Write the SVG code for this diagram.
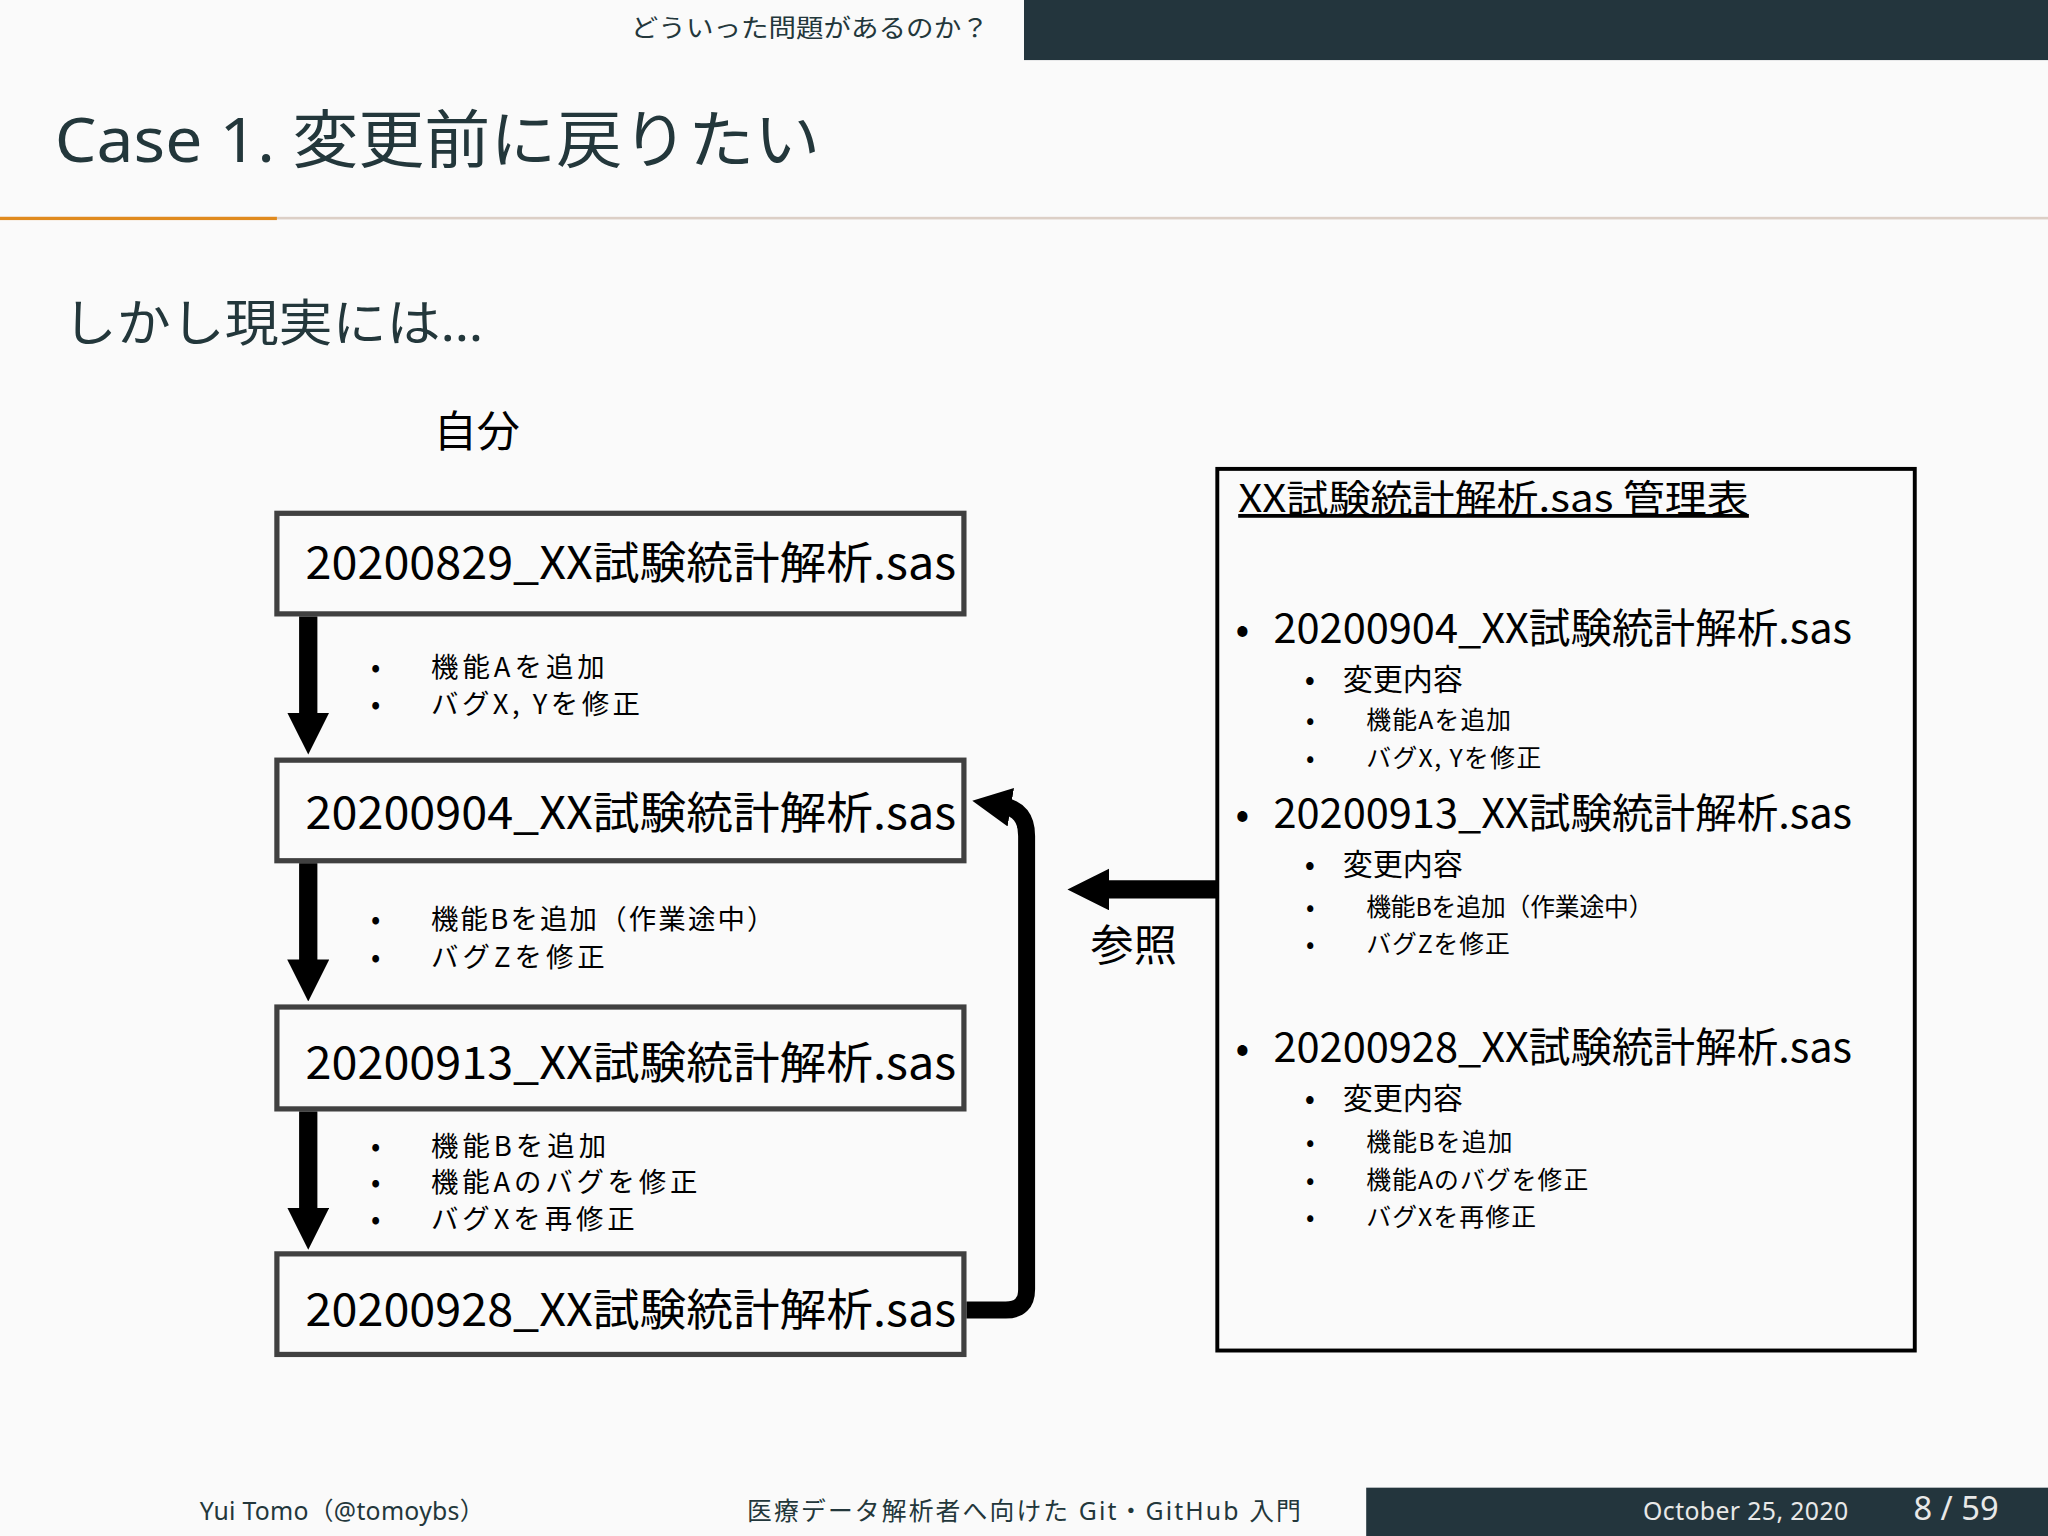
<svg xmlns="http://www.w3.org/2000/svg" width="2048" height="1536" viewBox="0 0 2048 1536">
<style>
.s{font-family:"Noto Sans","Noto Sans CJK JP",sans-serif;}
.d{font-family:"Noto Sans CJK JP",sans-serif;fill:#000;}
.box{fill:#fafafa;stroke:#404040;stroke-width:4;}
.fn{font-size:34px;}
.b1{font-size:21px;}
</style>
<defs>
<marker id="ah" viewBox="0 0 10 10" refX="2" refY="5" markerWidth="2.3" markerHeight="2.3" orient="auto" markerUnits="strokeWidth"><path d="M0,0 L10,5 L0,10 z" fill="#000"/></marker>
</defs>
<rect width="2048" height="1536" fill="#fafafa"/>
<g transform="scale(1.30612)">
<g id="header">
<rect x="784" y="0" width="784" height="46" fill="#23353d"/>
<text class="s" x="483" y="28" font-size="19" textLength="274" lengthAdjust="spacingAndGlyphs" fill="#23373b">どういった問題があるのか？</text>
<text class="s" x="42" y="124" font-size="48" textLength="586" lengthAdjust="spacingAndGlyphs" fill="#23373b">Case 1. 変更前に戻りたい</text>
<rect x="0" y="166" width="1568" height="2" fill="#dccfc6"/>
<rect x="0" y="166" width="212" height="2.5" fill="#e08a1e"/>
<text class="s" x="48" y="261" font-size="38" textLength="322" lengthAdjust="spacingAndGlyphs" fill="#23373b">しかし現実には…</text>
</g>
<text class="d" x="332" y="342" font-size="33">自分</text>
<g id="n1"><rect class="box" x="212" y="393" width="526" height="77"/><text class="d fn" x="234" y="443" textLength="498" lengthAdjust="spacingAndGlyphs">20200829_XX試験統計解析.sas</text></g>
<g id="n2"><rect class="box" x="212" y="582" width="526" height="77"/><text class="d fn" x="234" y="635" textLength="498" lengthAdjust="spacingAndGlyphs">20200904_XX試験統計解析.sas</text></g>
<g id="n3"><rect class="box" x="212" y="771" width="526" height="78"/><text class="d fn" x="234" y="826" textLength="498" lengthAdjust="spacingAndGlyphs">20200913_XX試験統計解析.sas</text></g>
<g id="n4"><rect class="box" x="212" y="960" width="526" height="77"/><text class="d fn" x="234" y="1015" textLength="498" lengthAdjust="spacingAndGlyphs">20200928_XX試験統計解析.sas</text></g>
<g id="connectors">
<path d="M236,472 V552" stroke="#000" stroke-width="14" marker-end="url(#ah)"/>
<path d="M236,661 V741" stroke="#000" stroke-width="14" marker-end="url(#ah)"/>
<path d="M236,851 V931" stroke="#000" stroke-width="14" marker-end="url(#ah)"/>
<path d="M740,1003 H770 Q786,1003 786,987 V640 Q786,620 768,617" fill="none" stroke="#000" stroke-width="13" marker-end="url(#ah)"/>
<path d="M932,681 H843" stroke="#000" stroke-width="14" marker-end="url(#ah)"/>
</g>
<g id="notes" class="d b1">
<text x="284" y="518">•</text><text x="330" y="518" textLength="133">機能Aを追加</text>
<text x="284" y="547">•</text><text x="330" y="547" textLength="160">バグX, Yを修正</text>
<text x="284" y="711">•</text><text x="330" y="711" textLength="263">機能Bを追加（作業途中）</text>
<text x="284" y="740">•</text><text x="330" y="740" textLength="133">バグZを修正</text>
<text x="284" y="885">•</text><text x="330" y="885" textLength="134">機能Bを追加</text>
<text x="284" y="913">•</text><text x="330" y="913" textLength="204">機能Aのバグを修正</text>
<text x="284" y="941">•</text><text x="330" y="941" textLength="156">バグXを再修正</text>
</g>
<text class="d" x="835" y="736" font-size="33">参照</text>
<g id="table">
<rect x="932" y="359" width="534" height="675" fill="none" stroke="#000" stroke-width="3"/>
<text class="d" x="948" y="392" font-size="29" textLength="391" lengthAdjust="spacingAndGlyphs" text-decoration="underline">XX試験統計解析.sas 管理表</text>
<g class="d" font-size="31">
<text x="946" y="492">•</text><text x="975" y="492" textLength="443" lengthAdjust="spacingAndGlyphs">20200904_XX試験統計解析.sas</text>
<text x="946" y="634">•</text><text x="975" y="634" textLength="443" lengthAdjust="spacingAndGlyphs">20200913_XX試験統計解析.sas</text>
<text x="946" y="813">•</text><text x="975" y="813" textLength="443" lengthAdjust="spacingAndGlyphs">20200928_XX試験統計解析.sas</text>
</g>
<g class="d" font-size="23">
<text x="999" y="528">•</text><text x="1028" y="528">変更内容</text>
<text x="999" y="670">•</text><text x="1028" y="670">変更内容</text>
<text x="999" y="849">•</text><text x="1028" y="849">変更内容</text>
</g>
<g class="d" font-size="19">
<text x="1000" y="558">•</text><text x="1046" y="558" textLength="111">機能Aを追加</text>
<text x="1000" y="587">•</text><text x="1046" y="587" textLength="134">バグX, Yを修正</text>
<text x="1000" y="701">•</text><text x="1046" y="701" textLength="220">機能Bを追加（作業途中）</text>
<text x="1000" y="730">•</text><text x="1046" y="730" textLength="110">バグZを修正</text>
<text x="1000" y="881">•</text><text x="1046" y="881" textLength="112">機能Bを追加</text>
<text x="1000" y="910">•</text><text x="1046" y="910" textLength="170">機能Aのバグを修正</text>
<text x="1000" y="939">•</text><text x="1046" y="939" textLength="130">バグXを再修正</text>
</g>
</g>
<g id="footer" class="s" font-size="19">
<rect x="1046" y="1139" width="522" height="37" fill="#23353d"/>
<text x="153" y="1164" fill="#23373b" textLength="218">Yui Tomo（@tomoybs）</text>
<text x="572" y="1164" fill="#23373b" textLength="424">医療データ解析者へ向けた Git・GitHub 入門</text>
<text x="1258" y="1164" fill="#e8e8e8" textLength="157">October 25, 2020</text>
<text x="1465" y="1164" fill="#e8e8e8" font-size="25">8 / 59</text>
</g>
</g>
</svg>
